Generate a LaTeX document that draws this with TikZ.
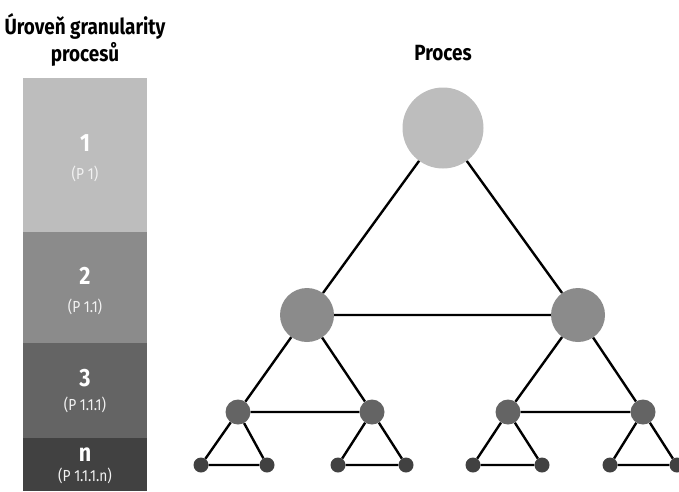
\documentclass[tikz,border=0pt]{standalone}
\usepackage{fontspec}
\setmainfont[FakeStretch=0.86]{Fira Sans}
\definecolor{shadeA}{HTML}{BDBDBD}
\definecolor{shadeB}{HTML}{8B8B8B}
\definecolor{shadeC}{HTML}{646464}
\definecolor{shadeD}{HTML}{414141}
\definecolor{paleText}{HTML}{F2F2F2}
\begin{document}
\begin{tikzpicture}[x=1pt,y=-1pt,
  proc/.style={circle,inner sep=0pt,fill=#1},
  link/.style={line width=2.4pt,black},
  num/.style={text=white,font=\bfseries\fontsize{25}{26}\selectfont},
  code/.style={text=paleText,font=\fontsize{16}{18}\selectfont}]
\useasboundingbox (0,0) rectangle (679,491);
\def\colx{85}
% granularity column
\fill[shadeA] (23,78) rectangle (147,232);
\fill[shadeB] (23,232) rectangle (147,343);
\fill[shadeC] (23,343) rectangle (147,438);
\fill[shadeD] (23,438) rectangle (147,491);
\node[font=\bfseries\fontsize{22}{27}\selectfont,align=center] (levels) at (\colx,40) {Úroveň granularity\\procesů};
\node[num] (n1) at (\colx,143) {1};
\node[code] (p1) at (\colx,174) {(P 1)};
\node[num] (n2) at (\colx,276) {2};
\node[code] (p2) at (\colx,307) {(P 1.1)};
\node[num] (n3) at (\colx,378) {3};
\node[code] (p3) at (\colx,405) {(P 1.1.1)};
\node[num] (n4) at (\colx,455) {n};
\node[code] (p4) at (\colx,476) {(P 1.1.1.n)};
% process tree
\node[font=\bfseries\fontsize{22}{24}\selectfont] (proces) at (443,53) {Proces};
\node[proc=shadeA,minimum size=81pt] (a) at (443,128) {};
\node[proc=shadeB,minimum size=54pt] (b1) at (307,315) {};
\node[proc=shadeB,minimum size=54pt] (b2) at (578,315) {};
\foreach \i/\x in {1/238,2/372,3/508,4/643}
  \node[proc=shadeC,minimum size=25pt] (c\i) at (\x,412) {};
\foreach \i/\x in {1/201,2/267,3/338,4/406,5/473,6/542,7/610,8/677}
  \node[proc=shadeD,minimum size=15pt] (d\i) at (\x,465) {};
\draw[link] (a) -- (b1) -- (b2) -- (a);
\draw[link] (b1) -- (c1) -- (c2) -- (b1);
\draw[link] (b2) -- (c3) -- (c4) -- (b2);
\draw[link] (c1) -- (d1) -- (d2) -- (c1);
\draw[link] (c2) -- (d3) -- (d4) -- (c2);
\draw[link] (c3) -- (d5) -- (d6) -- (c3);
\draw[link] (c4) -- (d7) -- (d8) -- (c4);
\end{tikzpicture}
\end{document}
